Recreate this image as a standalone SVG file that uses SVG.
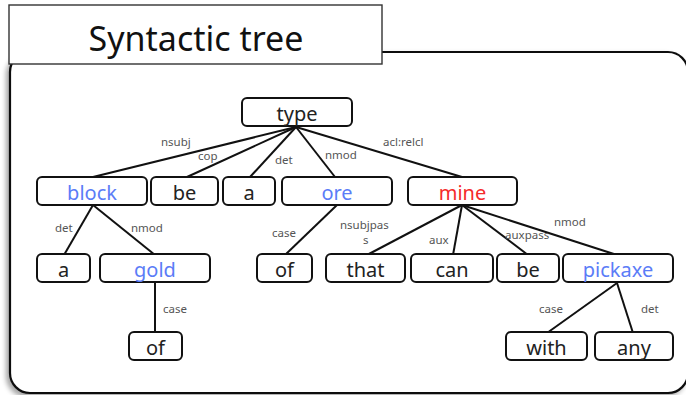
<svg xmlns="http://www.w3.org/2000/svg" width="686" height="395" viewBox="0 0 686 395">
  <defs>
    <filter id="shadow" x="-5%" y="-5%" width="110%" height="115%">
      <feDropShadow dx="-3" dy="3" stdDeviation="2.5" flood-color="#000" flood-opacity="0.35"/>
    </filter>
    <style>
      .frame { fill: #fff; stroke: #111; stroke-width: 2.2; }
      .title-box { fill: #fff; stroke: #333; stroke-width: 1.4; }
      .title { font-family: "Noto Sans", "Noto Sans CJK JP", sans-serif; font-size: 34px; fill: #111; text-anchor: middle; }
      .node rect { fill: #fff; stroke: #111; stroke-width: 2; }
      .node text { font-family: "Noto Sans", "Noto Sans CJK JP", sans-serif; font-size: 20px; fill: #222; text-anchor: middle; }
      .node text.blue { fill: #5b7cf7; }
      .node text.red { fill: #f52a2a; }
      #connectors line { stroke: #111; stroke-width: 2; }
      .lbl { font-family: "Noto Sans", "Noto Sans CJK JP", sans-serif; font-size: 11.5px; fill: #555; }
    </style>
  </defs>

  <rect width="686" height="395" fill="#fff"/>

  <!-- outer frame -->
  <rect class="frame" x="10" y="52" width="678" height="341" rx="20" filter="url(#shadow)"/>

  <!-- title tab -->
  <g id="title">
    <rect class="title-box" x="9" y="5" width="373" height="59"/>
    <text class="title" x="196" y="51">Syntactic tree</text>
  </g>

  <!-- edges -->
  <g id="connectors">
    <line x1="296" y1="127" x2="93" y2="177"/>
    <line x1="296" y1="127" x2="187" y2="177"/>
    <line x1="296" y1="127" x2="250" y2="177"/>
    <line x1="296" y1="127" x2="335" y2="177"/>
    <line x1="296" y1="127" x2="462" y2="177"/>
    <line x1="93" y1="205" x2="64" y2="255"/>
    <line x1="93" y1="205" x2="155" y2="255"/>
    <line x1="155" y1="283" x2="155" y2="332"/>
    <line x1="337" y1="205" x2="285" y2="255"/>
    <line x1="462" y1="205" x2="367" y2="255"/>
    <line x1="462" y1="205" x2="453" y2="255"/>
    <line x1="462" y1="205" x2="528" y2="255"/>
    <line x1="462" y1="205" x2="617" y2="255"/>
    <line x1="617" y1="283" x2="547" y2="333"/>
    <line x1="617" y1="283" x2="633" y2="333"/>

    <text class="lbl" x="161" y="146">nsubj</text>
    <text class="lbl" x="198" y="160">cop</text>
    <text class="lbl" x="275" y="164">det</text>
    <text class="lbl" x="325" y="159">nmod</text>
    <text class="lbl" x="383" y="146">acl:relcl</text>
    <text class="lbl" x="55" y="232">det</text>
    <text class="lbl" x="131" y="232">nmod</text>
    <text class="lbl" x="163" y="313">case</text>
    <text class="lbl" x="272" y="237">case</text>
    <text class="lbl" x="340" y="229">nsubjpas</text>
    <text class="lbl" x="363" y="244">s</text>
    <text class="lbl" x="429" y="244">aux</text>
    <text class="lbl" x="505" y="239">auxpass</text>
    <text class="lbl" x="554" y="226">nmod</text>
    <text class="lbl" x="539" y="313">case</text>
    <text class="lbl" x="641" y="313">det</text>
  </g>

  <!-- word nodes -->
  <g id="n-type" class="node"><rect x="242" y="98" width="110" height="28" rx="5"/><text x="297" y="121">type</text></g>

  <g id="n-block" class="node"><rect x="37" y="177" width="110" height="28" rx="5"/><text class="blue" x="92" y="200">block</text></g>
  <g id="n-be1" class="node"><rect x="151" y="177" width="67" height="28" rx="5"/><text x="184.5" y="200">be</text></g>
  <g id="n-a1" class="node"><rect x="223" y="177" width="52" height="28" rx="5"/><text x="249" y="200">a</text></g>
  <g id="n-ore" class="node"><rect x="282" y="177" width="110" height="28" rx="5"/><text class="blue" x="337" y="200">ore</text></g>
  <g id="n-mine" class="node"><rect x="408" y="177" width="109" height="28" rx="5"/><text class="red" x="462.5" y="200">mine</text></g>

  <g id="n-a2" class="node"><rect x="37" y="254" width="53" height="28" rx="5"/><text x="63.5" y="277">a</text></g>
  <g id="n-gold" class="node"><rect x="100" y="254" width="110" height="28" rx="5"/><text class="blue" x="155" y="277">gold</text></g>
  <g id="n-of1" class="node"><rect x="257" y="254" width="55" height="28" rx="5"/><text x="284.5" y="277">of</text></g>
  <g id="n-that" class="node"><rect x="326" y="254" width="79" height="28" rx="5"/><text x="365.5" y="277">that</text></g>
  <g id="n-can" class="node"><rect x="411" y="254" width="82" height="28" rx="5"/><text x="452" y="277">can</text></g>
  <g id="n-be2" class="node"><rect x="497" y="254" width="62" height="28" rx="5"/><text x="528" y="277">be</text></g>
  <g id="n-pickaxe" class="node"><rect x="563" y="254" width="110" height="28" rx="5"/><text class="blue" x="618" y="277">pickaxe</text></g>

  <g id="n-of2" class="node"><rect x="129" y="332" width="53" height="28" rx="5"/><text x="155.5" y="355">of</text></g>
  <g id="n-with" class="node"><rect x="506" y="332" width="81" height="28" rx="5"/><text x="546.5" y="355">with</text></g>
  <g id="n-any" class="node"><rect x="595" y="332" width="78" height="28" rx="5"/><text x="634" y="355">any</text></g>
</svg>
